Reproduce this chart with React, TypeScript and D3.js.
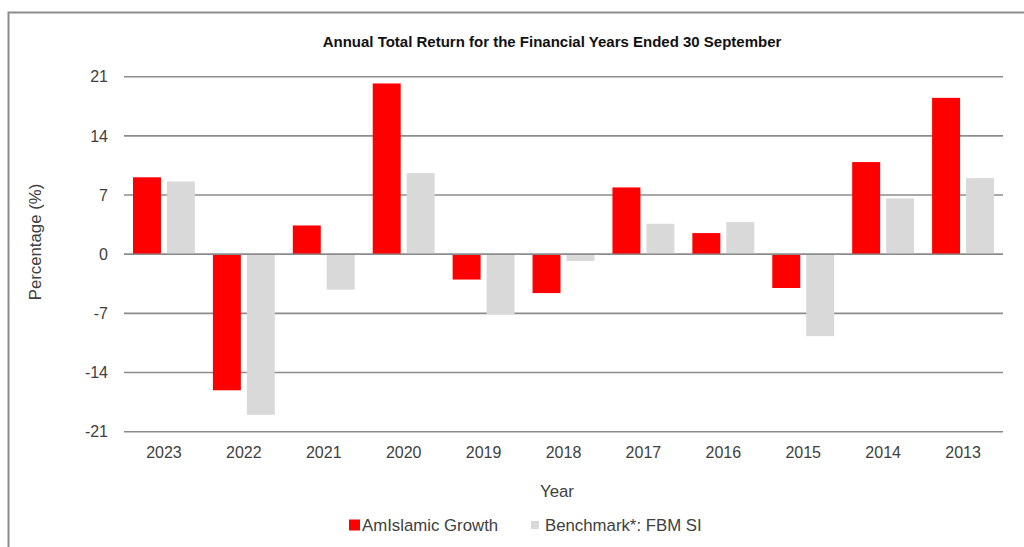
import React, { useEffect, useRef } from "react";
import * as d3 from "d3";

// Financial years, as shown left to right
const years = ["2023", "2022", "2021", "2020", "2019", "2018", "2017", "2016", "2015", "2014", "2013"];

// Annual total return (%)
const fundReturns = [9.1, -16.1, 3.4, 20.2, -3.0, -4.6, 7.9, 2.5, -4.0, 10.9, 18.5];
const benchmarkReturns = [8.6, -19.0, -4.2, 9.6, -7.1, -0.8, 3.6, 3.8, -9.7, 6.6, 9.0];

const seriesNames = ["AmIslamic Growth", "Benchmark*: FBM SI"];
const seriesColors = ["#ff0000", "#d9d9d9"];

const yTicks = [-21, -14, -7, 0, 7, 14, 21];

const App = () => {
  const ref = useRef<SVGSVGElement>(null);

  useEffect(() => {
    document.body.style.margin = "0";

    const w = 1024;
    const h = 547;
    const left = 124;
    const right = 1003;
    const top = 76.7;
    const bottom = 431.7;
    const textColor = "#404040";
    const font = "'Liberation Sans', Arial, sans-serif";

    const svg = d3.select(ref.current);
    svg.selectAll("*").remove();
    svg.attr("width", w).attr("height", h).style("display", "block").style("background", "#fff");

    // chart frame (runs off the right and bottom edges)
    svg
      .append("rect")
      .attr("x", 8.5)
      .attr("y", 12.5)
      .attr("width", 1040)
      .attr("height", 560)
      .attr("fill", "none")
      .attr("stroke", "#8c8c8c")
      .attr("stroke-width", 2);

    // Scales
    const x0 = d3.scaleBand().domain(years).range([left, right]);
    const x1 = d3
      .scaleBand()
      .domain(seriesNames)
      .range([9, x0.bandwidth() - 9])
      .paddingInner(0.176);
    const y = d3.scaleLinear().domain([-21, 21]).range([bottom, top]);

    // Title
    svg
      .append("text")
      .attr("x", 552)
      .attr("y", 47)
      .attr("text-anchor", "middle")
      .style("font-family", "'Liberation Sans Narrow', 'Liberation Sans', sans-serif")
      .style("font-weight", "700")
      .style("font-size", "15px")
      .attr("fill", "#111")
      .text("Annual Total Return for the Financial Years Ended 30 September");

    // Gridlines + y labels
    const yAxis = svg.append("g").attr("class", "y-axis");
    yAxis
      .selectAll("line")
      .data(yTicks)
      .join("line")
      .attr("x1", left)
      .attr("x2", right)
      .attr("y1", (d) => y(d))
      .attr("y2", (d) => y(d))
      .attr("stroke", "#8c8c8c")
      .attr("stroke-width", 1.6);
    yAxis
      .selectAll("text")
      .data(yTicks)
      .join("text")
      .attr("x", 108)
      .attr("y", (d) => y(d))
      .attr("dy", "0.36em")
      .attr("text-anchor", "end")
      .style("font-family", font)
      .style("font-size", "16px")
      .attr("fill", textColor)
      .text((d) => d);

    // Bars
    const groups = svg
      .append("g")
      .selectAll("g")
      .data(years)
      .join("g")
      .attr("transform", (d) => `translate(${x0(d)},0)`);

    groups
      .selectAll("rect")
      .data((d, i) => [fundReturns[i], benchmarkReturns[i]].map((v, k) => ({ v, k })))
      .join("rect")
      .attr("x", (d) => x1(seriesNames[d.k]) as number)
      .attr("width", x1.bandwidth())
      .attr("y", (d) => y(Math.max(0, d.v)))
      .attr("height", (d) => Math.abs(y(d.v) - y(0)))
      .attr("fill", (d) => seriesColors[d.k]);

    // redraw the zero line over the bars
    svg
      .append("line")
      .attr("x1", left)
      .attr("x2", right)
      .attr("y1", y(0))
      .attr("y2", y(0))
      .attr("stroke", "#8c8c8c")
      .attr("stroke-width", 1.6);

    // x labels
    svg
      .append("g")
      .selectAll("text")
      .data(years)
      .join("text")
      .attr("x", (d) => (x0(d) as number) + x0.bandwidth() / 2)
      .attr("y", 458)
      .attr("text-anchor", "middle")
      .style("font-family", font)
      .style("font-size", "16px")
      .attr("fill", textColor)
      .text((d) => d);

    // x-axis title
    svg
      .append("text")
      .attr("x", 557)
      .attr("y", 497)
      .attr("text-anchor", "middle")
      .style("font-family", font)
      .style("font-size", "16.8px")
      .attr("fill", textColor)
      .text("Year");

    // y-axis title
    svg
      .append("text")
      .attr("transform", "rotate(-90)")
      .attr("x", -242)
      .attr("y", 41)
      .attr("text-anchor", "middle")
      .style("font-family", font)
      .style("font-size", "16.8px")
      .attr("fill", textColor)
      .text("Percentage (%)");

    // Legend
    const legendX = [349, 531];
    const legendSize = [11, 8];
    const legend = svg
      .append("g")
      .selectAll("g")
      .data(seriesNames)
      .join("g")
      .attr("transform", (d, i) => `translate(${legendX[i]},525)`);
    legend
      .append("rect")
      .attr("x", 0)
      .attr("y", (d, i) => -legendSize[i] / 2)
      .attr("width", (d, i) => legendSize[i])
      .attr("height", (d, i) => legendSize[i])
      .attr("fill", (d, i) => seriesColors[i]);
    legend
      .append("text")
      .attr("x", (d, i) => (i === 0 ? 13 : 14))
      .attr("dy", "0.36em")
      .style("font-family", font)
      .style("font-size", "16.8px")
      .attr("fill", textColor)
      .text((d) => d);
  }, []);

  return <svg ref={ref}></svg>;
};

export default App;
